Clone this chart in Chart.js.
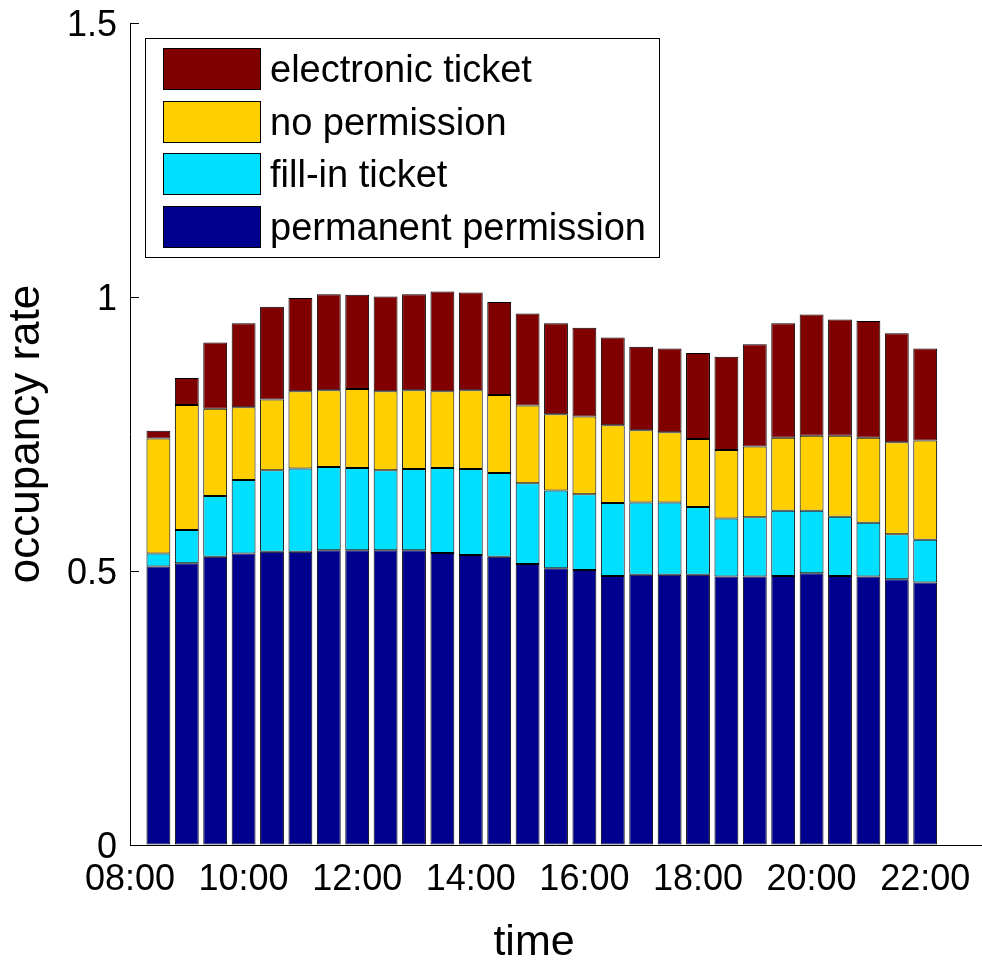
<!DOCTYPE html>
<html>
<head>
<meta charset="utf-8">
<script src="https://cdn.jsdelivr.net/npm/chart.js@4.4.1/dist/chart.umd.min.js"></script>
<style>
  html, body { margin: 0; padding: 0; background: #ffffff; }
  #wrap { width: 982px; height: 960px; position: relative; }
</style>
</head>
<body>
<div id="wrap"><canvas id="chart"></canvas></div>
<script>
// ---- data ----
const times = ["08:30","09:00","09:30","10:00","10:30","11:00","11:30","12:00","12:30","13:00",
               "13:30","14:00","14:30","15:00","15:30","16:00","16:30","17:00","17:30","18:00",
               "18:30","19:00","19:30","20:00","20:30","21:00","21:30","22:00"];
const permanentPermission = [0.508,0.514,0.526,0.532,0.535,0.535,0.538,0.538,0.538,0.538,
                             0.533,0.529,0.526,0.513,0.505,0.502,0.491,0.493,0.493,0.493,
                             0.490,0.490,0.491,0.496,0.491,0.490,0.485,0.479];
const fillInTicket = [0.024,0.061,0.111,0.134,0.149,0.152,0.152,0.150,0.146,0.148,
                      0.155,0.157,0.153,0.147,0.142,0.138,0.133,0.132,0.132,0.124,
                      0.106,0.108,0.119,0.114,0.108,0.098,0.082,0.078];
const noPermission = [0.210,0.228,0.159,0.133,0.129,0.141,0.140,0.144,0.144,0.144,
                      0.140,0.144,0.142,0.142,0.139,0.142,0.142,0.132,0.128,0.124,
                      0.125,0.129,0.133,0.137,0.148,0.155,0.168,0.181];
const electronicTicket = [0.014,0.049,0.121,0.153,0.169,0.170,0.175,0.172,0.173,0.175,
                          0.182,0.178,0.170,0.168,0.166,0.162,0.160,0.152,0.153,0.157,
                          0.170,0.187,0.209,0.221,0.212,0.213,0.199,0.168];
const seriesNames = ["permanent permission","fill-in ticket","no permission","electronic ticket"];
const xTickLabels = ["08:00","10:00","12:00","14:00","16:00","18:00","20:00","22:00"];
const xRange = ["08:00","23:00"];
const yTickLabels = ["0","0.5","1","1.5"];
const axisTitles = { x: "time", y: "occupancy rate" };

// ---- helpers ----
const toHours = s => { const [h, m] = s.split(":").map(Number); return h + m / 60; };
const FONT = '"Liberation Sans", Arial, Helvetica, sans-serif';
const colors = ["#00008F", "#00DFFF", "#FFCF00", "#800000"];
const seriesValues = [permanentPermission, fillInTicket, noPermission, electronicTicket];

const datasets = seriesValues.map((vals, k) => ({
  label: seriesNames[k],
  data: vals.map((v, i) => ({ x: toHours(times[i]), y: v })),
  backgroundColor: colors[k],
  borderColor: "#000000",
  borderWidth: 1,
  borderSkipped: false,
  barPercentage: 0.84,
  categoryPercentage: 1.0
}));

// inward tick marks on the y axis (MATLAB style)
const innerTicks = {
  id: "innerTicks",
  afterDatasetsDraw(chart) {
    const { ctx, scales } = chart;
    const y = scales.y, x = scales.x;
    ctx.save();
    ctx.strokeStyle = "#000";
    ctx.lineWidth = 1;
    y.ticks.forEach(t => {
      const py = Math.round(y.getPixelForValue(t.value)) + 0.5;
      ctx.beginPath();
      ctx.moveTo(x.left, py);
      ctx.lineTo(x.left + 9, py);
      ctx.stroke();
    });
    ctx.restore();
  }
};

// x-axis title, placed where the reference figure has it
const xTitle = {
  id: "xTitle",
  afterDraw(chart) {
    const { ctx, chartArea } = chart;
    ctx.save();
    ctx.fillStyle = "#000";
    ctx.font = "43px " + FONT;
    ctx.textAlign = "center";
    ctx.textBaseline = "alphabetic";
    ctx.fillText(axisTitles.x, chartArea.left + 404, chartArea.bottom + 110);
    ctx.restore();
  }
};

// legend drawn inside the plot, boxed, top-left
const insideLegend = {
  id: "insideLegend",
  afterDraw(chart) {
    const { ctx, chartArea } = chart;
    const x0 = chartArea.left + 15, y0 = chartArea.top + 15, w = 514, h = 219;
    ctx.save();
    ctx.fillStyle = "#fff";
    ctx.fillRect(x0, y0, w, h);
    ctx.strokeStyle = "#000";
    ctx.lineWidth = 1;
    ctx.strokeRect(x0 + 0.5, y0 + 0.5, w, h);
    const ds = chart.data.datasets.slice().reverse();
    ds.forEach((d, i) => {
      const sy = Math.round(y0 + 10 + i * 52.7);
      ctx.fillStyle = d.backgroundColor;
      ctx.fillRect(x0 + 18, sy, 97, 41);
      ctx.strokeStyle = "#000";
      ctx.strokeRect(x0 + 18.5, sy + 0.5, 97, 41);
      ctx.fillStyle = "#000";
      ctx.font = "38px " + FONT;
      ctx.textBaseline = "middle";
      ctx.textAlign = "left";
      ctx.fillText(d.label, x0 + 125, sy + 24);
    });
    ctx.restore();
  }
};

new Chart(document.getElementById("chart"), {
  type: "bar",
  data: { datasets },
  plugins: [innerTicks, xTitle, insideLegend],
  options: {
    responsive: true,
    maintainAspectRatio: false,
    animation: false,
    layout: { padding: { top: 23, right: 0, bottom: 0, left: 0 } },
    plugins: { legend: { display: false }, tooltip: { enabled: false } },
    scales: {
      x: {
        type: "linear",
        stacked: true,
        offset: false,
        bounds: "data",
        min: toHours(xRange[0]),
        max: toHours(xRange[1]),
        afterBuildTicks: s => { s.ticks = xTickLabels.map(l => ({ value: toHours(l) })); },
        afterFit: s => { s.height = 115; s.paddingLeft = 0; s.paddingRight = 0; },
        grid: { display: true, drawOnChartArea: false, drawTicks: false },
        border: { display: true, color: "#000", width: 1 },
        ticks: {
          padding: 13,
          maxRotation: 0,
          autoSkip: false,
          color: "#000",
          font: { family: FONT, size: 36 },
          callback: v => { const l = xTickLabels.find(t => Math.abs(toHours(t) - v) < 1e-6); return l === undefined ? "" : l; }
        },
        title: { display: false, text: axisTitles.x }
      },
      y: {
        stacked: true,
        min: 0,
        max: 1.5,
        afterBuildTicks: s => { s.ticks = yTickLabels.map(l => ({ value: parseFloat(l) })); },
        afterFit: s => { s.width = 130; s.paddingTop = 0; s.paddingBottom = 0; },
        grid: { display: true, drawOnChartArea: false, drawTicks: false },
        border: { display: true, color: "#000", width: 1 },
        ticks: {
          padding: 13,
          labelOffset: 3,
          color: "#000",
          font: { family: FONT, size: 36 },
          callback: v => { const l = yTickLabels.find(t => Math.abs(parseFloat(t) - v) < 1e-9); return l === undefined ? "" : l; }
        },
        title: {
          display: true,
          text: axisTitles.y,
          color: "#000",
          font: { family: FONT, size: 44, lineHeight: 1.2 },
          padding: 0
        }
      }
    }
  }
});
</script>
</body>
</html>
